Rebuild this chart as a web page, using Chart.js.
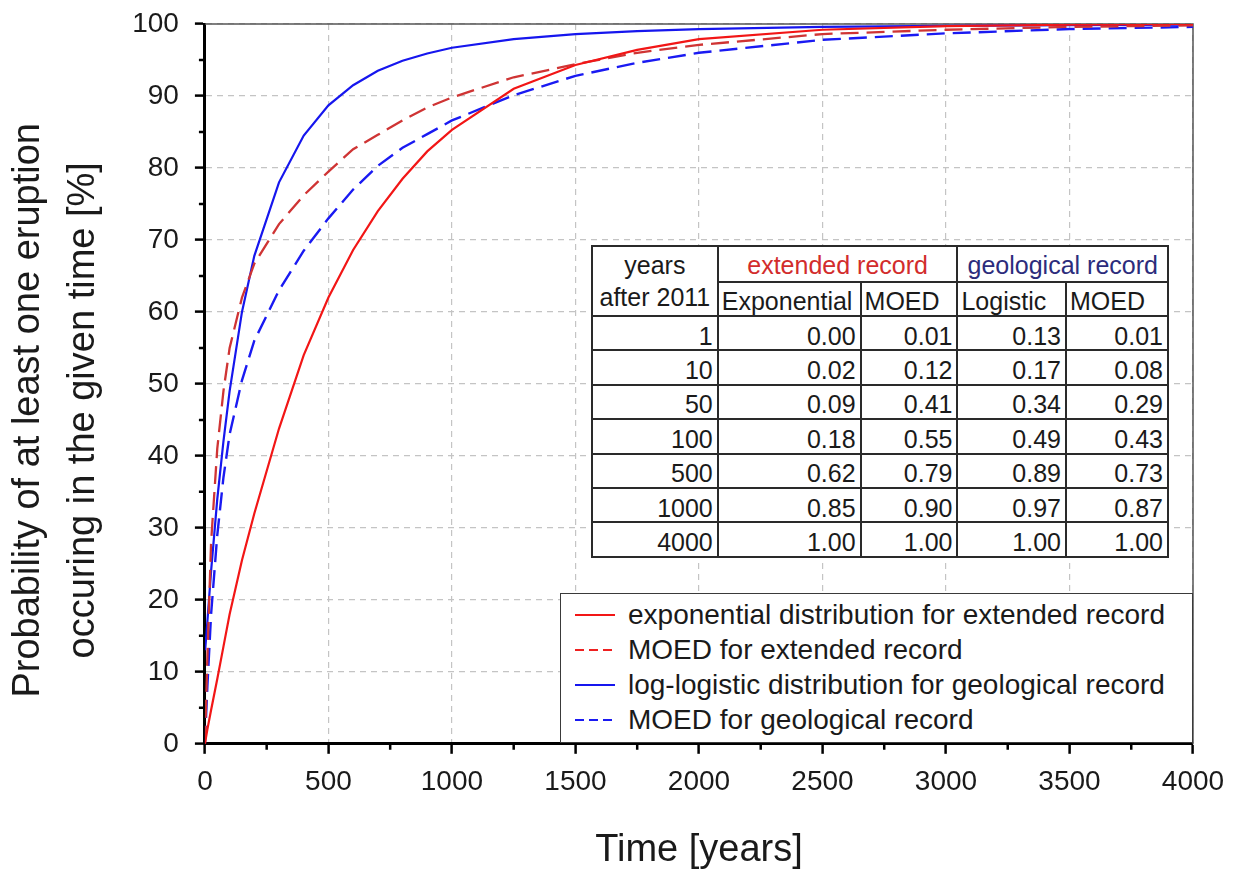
<!DOCTYPE html>
<html>
<head>
<meta charset="utf-8">
<script src="https://cdn.jsdelivr.net/npm/chart.js@4"></script>
<style>
  html, body { margin: 0; padding: 0; background: #fff; }
  #wrap { position: relative; width: 1237px; height: 874px; font-family: 'Liberation Sans', Arial, sans-serif; color: #1a1a1a; }
  #chart { position: absolute; left: 0; top: 0; }
  #probTable {
    position: absolute; left: 591px; top: 245px; width: 578px; height: 311px;
    border-collapse: collapse; background: #fff; font-size: 25px;
    border: 2.5px solid #1a1a1a;
  }
  #probTable td { border: 2px solid #2a2a2a; padding: 0 4px 0 4px; line-height: 1; white-space: nowrap; }
  #probTable td.num { text-align: right; padding-top: 6px; }
  #probTable td.sub { text-align: left; padding-left: 3px; padding-top: 4px; }
  #probTable td.grp { text-align: center; padding-top: 2px; }
  #probTable td.yrs { text-align: center; line-height: 1.3; }
  #legendBox {
    position: absolute; left: 560px; top: 593px; width: 631px; height: 148px;
    border: 1.5px solid #3a3a3a; background: #fff; font-size: 28px;
    box-sizing: content-box;
  }
  .lg-row { position: absolute; left: 0; height: 35px; display: flex; align-items: center; }
  .lg-row svg { margin-left: 14px; margin-right: 13px; }
</style>
</head>
<body>
<div id="wrap">
  <canvas id="chart" width="1237" height="874"></canvas>
  <table id="probTable"></table>
  <div id="legendBox"></div>
</div>
<script>
// time axis (years) shared by all four curves
const years = [0, 1, 10, 25, 50, 75, 100, 150, 200, 300, 400, 500, 600, 700, 800, 900, 1000, 1250, 1500, 1750, 2000, 2500, 3000, 3500, 4000];

// probability of at least one eruption [%]
const expExtended  = [0, 0.2, 2, 4.7, 9, 13.5, 18, 25.5, 32, 43.8, 54, 62, 68.6, 74, 78.5, 82.3, 85.3, 91, 94.3, 96.4, 97.9, 99.2, 99.7, 99.9, 100];
const moedExtended = [0, 1, 12, 28, 41, 49, 55, 62, 66.7, 72.2, 76.2, 79.5, 82.6, 84.6, 86.6, 88.4, 89.8, 92.6, 94.4, 96, 97.1, 98.6, 99.2, 99.6, 99.8];
const logLogGeo    = [null, 13, 17, 24, 34, 42, 49, 60, 67.8, 78, 84.5, 88.7, 91.5, 93.5, 94.9, 95.9, 96.7, 97.9, 98.6, 99, 99.3, 99.6, 99.75, 99.85, 99.9];
const moedGeo      = [0, 1, 8, 18, 29, 37, 43, 50.5, 56, 63, 68.5, 73, 77, 80.3, 82.8, 84.7, 86.6, 90.1, 92.8, 94.6, 96, 97.8, 98.7, 99.3, 99.6];

const seriesNames = [
    'exponential distribution for extended record',
    'MOED for extended record',
    'log-logistic distribution for geological record',
    'MOED for geological record'
];

// inset table
const tableYears    = [1, 10, 50, 100, 500, 1000, 4000];
const tblExpExt     = [0.00, 0.02, 0.09, 0.18, 0.62, 0.85, 1.00];
const tblMoedExt    = [0.01, 0.12, 0.41, 0.55, 0.79, 0.90, 1.00];
const tblLogistic   = [0.13, 0.17, 0.34, 0.49, 0.89, 0.97, 1.00];
const tblMoedGeo    = [0.01, 0.08, 0.29, 0.43, 0.73, 0.87, 1.00];

const xMajor = 500, yMajor = 10;
const FONT = "'Liberation Sans', Arial, sans-serif";

function toPoints(vals) {
    const pts = [];
    vals.forEach(function(v, i) {
        if (v !== null) pts.push({ x: years[i], y: v });
    });
    return pts;
}

// top/right frame and short minor ticks
const axisExtras = {
    id: 'axisExtras',
    beforeDatasetsDraw(chart) {
        const { ctx, chartArea: a } = chart;
        ctx.save();
        ctx.strokeStyle = '#555';
        ctx.lineWidth = 1.5;
        ctx.beginPath();
        ctx.moveTo(a.left, a.top);
        ctx.lineTo(a.right, a.top);
        ctx.lineTo(a.right, a.bottom);
        ctx.stroke();
        ctx.restore();
    },
    afterDraw(chart) {
        const { ctx, chartArea: a, scales } = chart;
        ctx.save();
        ctx.strokeStyle = '#000';
        ctx.lineWidth = 2.5;
        ctx.beginPath();
        scales.x.ticks.forEach(function(t) {
            if (t.value % xMajor !== 0) {
                const px = scales.x.getPixelForValue(t.value);
                ctx.moveTo(px, a.bottom);
                ctx.lineTo(px, a.bottom + 6);
            }
        });
        scales.y.ticks.forEach(function(t) {
            if (t.value % yMajor !== 0) {
                const py = scales.y.getPixelForValue(t.value);
                ctx.moveTo(a.left, py);
                ctx.lineTo(a.left - 6, py);
            }
        });
        ctx.stroke();
        ctx.restore();
    }
};

const chart = new Chart(document.getElementById('chart'), {
    type: 'line',
    data: {
        datasets: [
            {
                label: seriesNames[0],
                data: toPoints(expExtended),
                borderColor: '#f21616',
                borderWidth: 2.2,
                pointRadius: 0,
                tension: 0
            },
            {
                label: seriesNames[1],
                data: toPoints(moedExtended),
                borderColor: '#cf3434',
                borderWidth: 2.3,
                borderDash: [18, 8],
                pointRadius: 0,
                tension: 0
            },
            {
                label: seriesNames[2],
                data: toPoints(logLogGeo),
                borderColor: '#1616ee',
                borderWidth: 2.2,
                pointRadius: 0,
                tension: 0
            },
            {
                label: seriesNames[3],
                data: toPoints(moedGeo),
                borderColor: '#1a1af2',
                borderWidth: 2.4,
                borderDash: [18, 8],
                pointRadius: 0,
                tension: 0
            }
        ]
    },
    options: {
        responsive: false,
        animation: false,
        layout: {
            padding: { left: 0, top: 24, right: 44, bottom: 0 }
        },
        plugins: {
            legend: { display: false },
            tooltip: { enabled: false }
        },
        scales: {
            x: {
                type: 'linear',
                min: 0,
                max: 4000,
                border: { display: true, color: '#000', width: 3, dash: [6, 5] },
                grid: {
                    color: function(c) { return c.tick.value % xMajor === 0 ? '#c4c4c4' : 'transparent'; },
                    lineWidth: 1.2,
                    tickColor: function(c) { return c.tick.value % xMajor === 0 ? '#000' : 'transparent'; },
                    tickLength: 10,
                    tickWidth: 2.5
                },
                ticks: {
                    stepSize: 250,
                    autoSkip: false,
                    maxRotation: 0,
                    padding: 12,
                    color: '#1a1a1a',
                    font: { family: FONT, size: 28 },
                    callback: function(v) { return v % xMajor === 0 ? String(v) : ''; }
                },
                title: {
                    display: true,
                    text: 'Time [years]',
                    color: '#1a1a1a',
                    font: { family: FONT, size: 38, lineHeight: 1.2 },
                    padding: { top: 16, bottom: 1 }
                }
            },
            y: {
                min: 0,
                max: 100,
                afterFit: function(scale) {
                    scale.paddingTop = 0;
                    scale.paddingBottom = 0;
                },
                border: { display: true, color: '#000', width: 3, dash: [6, 5] },
                grid: {
                    color: function(c) { return c.tick.value % yMajor === 0 ? '#c4c4c4' : 'transparent'; },
                    lineWidth: 1.2,
                    tickColor: function(c) { return c.tick.value % yMajor === 0 ? '#000' : 'transparent'; },
                    tickLength: 10,
                    tickWidth: 2.5
                },
                ticks: {
                    stepSize: 5,
                    autoSkip: false,
                    padding: 16,
                    color: '#1a1a1a',
                    font: { family: FONT, size: 28 },
                    callback: function(v) { return v % yMajor === 0 ? String(v) : ''; }
                },
                title: {
                    display: true,
                    text: ['Probability of at least one eruption     ', 'occuring in the given time [%]     '],
                    color: '#1a1a1a',
                    font: { family: FONT, size: 38, lineHeight: 1.45 },
                    padding: { top: 1, bottom: 5 }
                }
            }
        }
    },
    plugins: [axisExtras]
});

// inset table
(function buildTable() {
    const t = document.getElementById('probTable');
    let html = '';
    html += '<tr style="height:36px"><td class="yrs" rowspan="2">years<br>after 2011</td>' +
            '<td class="grp" colspan="2" style="color:#d22c2c">extended record</td>' +
            '<td class="grp" colspan="2" style="color:#2c2c7c">geological record</td></tr>';
    html += '<tr style="height:34px"><td class="sub">Exponential</td><td class="sub">MOED</td>' +
            '<td class="sub">Logistic</td><td class="sub">MOED</td></tr>';
    tableYears.forEach(function(y, i) {
        html += '<tr style="height:34.4px"><td class="num">' + y + '</td>' +
                '<td class="num">' + tblExpExt[i].toFixed(2) + '</td>' +
                '<td class="num">' + tblMoedExt[i].toFixed(2) + '</td>' +
                '<td class="num">' + tblLogistic[i].toFixed(2) + '</td>' +
                '<td class="num">' + tblMoedGeo[i].toFixed(2) + '</td></tr>';
    });
    t.innerHTML = html;
    const widths = [124, 138, 108, 106, 101];
    const firstCells = t.rows[2].cells;
    for (let i = 0; i < widths.length; i++) firstCells[i].style.width = widths[i] + 'px';
})();

// legend built from the chart's datasets
(function buildLegend() {
    const box = document.getElementById('legendBox');
    chart.data.datasets.forEach(function(ds, i) {
        const row = document.createElement('div');
        row.className = 'lg-row';
        row.style.top = (3 + i * 35) + 'px';
        const dash = ds.borderDash ? 'stroke-dasharray="9 5"' : '';
        row.innerHTML = '<svg width="40" height="6"><line x1="0" y1="3" x2="40" y2="3" stroke="' +
            (ds.borderDash ? ds.borderColor.replace('#cf3434', '#ee2020') : ds.borderColor) +
            '" stroke-width="2" ' + dash + '/></svg><span>' + ds.label + '</span>';
        box.appendChild(row);
    });
})();
</script>
</body>
</html>
